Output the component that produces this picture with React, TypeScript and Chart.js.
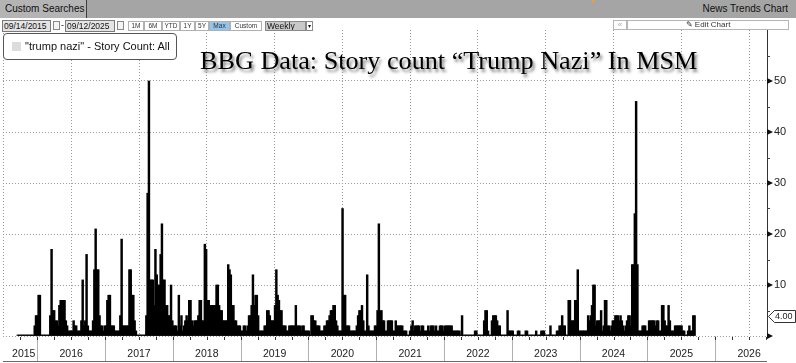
import React, { useEffect, useRef } from 'react';
import { Chart, registerables } from 'chart.js';

Chart.register(...registerables);

// ---------- DATA (weekly story counts, one value per Friday) ----------
const seriesName = '"trump nazi" - Story Count: All';
const chartTitle = 'BBG Data: Story count \u201CTrump Nazi\u201D In MSM';
const firstFriday = { year: 2015, month: 8, day: 18 }; // 2015-09-18

const counts2015 = [0, 0, 0, 0, 0, 0, 0, 0, 0, 0, 0, 0, 0, 2, 4];
const counts2016 = [4, 8, 8, 0, 0, 0, 0, 0, 0, 0, 4, 17, 5, 5, 3, 3, 2, 6, 7, 7, 7, 7, 3, 2, 1, 1, 1, 1, 3, 2, 2, 1, 1, 1, 3, 11, 2, 3, 16, 2, 1, 1, 1, 3, 13, 21, 13, 13, 4, 2, 2, 1, 2];
const counts2017 = [2, 7, 8, 8, 2, 2, 2, 1, 1, 1, 1, 4, 19, 2, 2, 2, 2, 2, 13, 13, 8, 8, 3, 1, 0, 0, 0, 0, 0, 0, 0, 4, 28, 50, 11, 11, 11, 6, 17, 12, 10, 10, 16, 22, 11, 11, 6, 6, 4, 4, 10, 3];
const counts2018 = [2, 2, 2, 1, 8, 2, 4, 1, 2, 3, 4, 3, 7, 7, 3, 2, 3, 3, 3, 4, 7, 7, 3, 3, 18, 17, 7, 7, 6, 6, 6, 6, 6, 10, 10, 6, 5, 5, 3, 3, 3, 3, 14, 13, 12, 6, 6, 3, 3, 2, 2, 2];
const counts2019 = [1, 1, 2, 2, 1, 2, 4, 4, 6, 12, 6, 8, 8, 4, 1, 1, 1, 1, 2, 2, 5, 5, 4, 3, 3, 3, 6, 13, 8, 7, 5, 5, 2, 2, 2, 1, 1, 2, 2, 2, 2, 2, 6, 2, 2, 2, 1, 2, 2, 1, 1, 1];
const counts2020 = [1, 0, 4, 4, 3, 3, 2, 2, 2, 1, 1, 1, 2, 2, 3, 3, 4, 5, 5, 6, 6, 3, 2, 1, 1, 1, 25, 8, 8, 2, 2, 2, 1, 1, 1, 1, 1, 2, 4, 5, 5, 6, 3, 1, 1, 12, 2, 1, 1, 1, 1, 2];
const counts2021 = [2, 5, 22, 5, 5, 3, 3, 1, 1, 3, 3, 3, 3, 1, 1, 3, 2, 2, 2, 2, 2, 1, 1, 1, 0, 0, 1, 2, 3, 1, 2, 2, 2, 2, 1, 2, 2, 1, 1, 1, 2, 1, 2, 2, 2, 1, 2, 1, 1, 2, 2, 2, 1];
const counts2022 = [2, 2, 2, 2, 2, 2, 1, 1, 1, 1, 1, 1, 0, 4, 0, 0, 0, 0, 0, 0, 0, 0, 0, 1, 1, 0, 0, 0, 0, 0, 3, 5, 5, 1, 0, 0, 3, 4, 4, 4, 3, 2, 2, 0, 0, 0, 0, 0, 5, 1, 1, 1];
const counts2023 = [1, 0, 0, 0, 1, 1, 0, 0, 0, 0, 1, 1, 0, 0, 0, 0, 0, 0, 1, 0, 0, 0, 1, 1, 1, 0, 0, 0, 0, 2, 0, 0, 0, 0, 1, 1, 2, 2, 4, 2, 2, 0, 0, 7, 7, 3, 3, 3, 7, 7, 13, 1];
const counts2024 = [1, 1, 1, 1, 1, 1, 4, 3, 4, 6, 10, 10, 2, 3, 3, 3, 5, 1, 2, 7, 7, 2, 2, 1, 2, 3, 3, 4, 4, 4, 3, 4, 3, 2, 1, 2, 3, 4, 4, 2, 14, 14, 24, 46, 14, 1, 1, 1, 2, 2, 2, 1];
const counts2025 = [1, 3, 3, 3, 3, 3, 2, 3, 3, 1, 1, 6, 6, 3, 2, 2, 6, 3, 1, 1, 1, 2, 2, 2, 2, 2, 2, 1, 1, 0, 0, 1, 2, 1, 1, 4, 4];

const yearLabels = ['2015', '2016', '2017', '2018', '2019', '2020', '2021', '2022', '2023', '2024', '2025', '2026'];
const yearLabelPositions = [2015.8, 2016.5, 2017.5, 2018.5, 2019.5, 2020.5, 2021.5, 2022.5, 2023.5, 2024.5, 2025.5, 2026.5];
const yearBoundaries = [2016, 2017, 2018, 2019, 2020, 2021, 2022, 2023, 2024, 2025, 2026];
const yTickValues = [10, 20, 30, 40, 50];
const rangeButtons = ['1M', '6M', 'YTD', '1Y', '5Y', 'Max', 'Custom'];

const X_MIN = 2015.493;
const X_MAX = 2026.764;
const Y_MAX = 60;

const allCounts = [
  ...counts2015, ...counts2016, ...counts2017, ...counts2018, ...counts2019, ...counts2020,
  ...counts2021, ...counts2022, ...counts2023, ...counts2024, ...counts2025,
];

function decimalYear(ms: number) {
  const d = new Date(ms);
  const y = d.getUTCFullYear();
  const s = Date.UTC(y, 0, 1);
  const e = Date.UTC(y + 1, 0, 1);
  return y + (ms - s) / (e - s);
}

const startMs = Date.UTC(firstFriday.year, firstFriday.month, firstFriday.day);
const points = allCounts.map((v, i) => ({ x: decimalYear(startMs + i * 7 * 86400000), y: v }));

const SANS = "'Liberation Sans', Arial, sans-serif";

const decorPlugin = {
  id: 'decor',
  afterDraw(chart: any) {
    const { ctx, chartArea, scales } = chart;
    const xs = scales.x;
    const ys = scales.y;
    const bottom = chartArea.bottom;
    ctx.save();
    // year separators in the axis band
    ctx.strokeStyle = '#b0b0b0';
    ctx.lineWidth = 1;
    yearBoundaries.forEach((yr) => {
      const px = Math.round(xs.getPixelForValue(yr)) + 0.5;
      ctx.beginPath();
      ctx.moveTo(px, bottom);
      ctx.lineTo(px, 362);
      ctx.stroke();
    });
    // bottom line
    ctx.strokeStyle = '#6a6a6a';
    ctx.beginPath();
    ctx.moveTo(chartArea.left, 361.5);
    ctx.lineTo(chartArea.right, 361.5);
    ctx.stroke();
    // quarterly ticks
    ctx.strokeStyle = '#333';
    for (let q = 2015.75; q <= X_MAX; q += 0.25) {
      const px = Math.round(xs.getPixelForValue(q)) + 0.5;
      if (px < chartArea.left || px > chartArea.right) continue;
      ctx.beginPath();
      ctx.moveTo(px, bottom + 1);
      ctx.lineTo(px, bottom + 4);
      ctx.stroke();
    }
    // y-axis markers
    const ax = chartArea.right;
    ctx.fillStyle = '#111';
    [0, ...yTickValues].forEach((v) => {
      const py = ys.getPixelForValue(v);
      ctx.beginPath();
      ctx.moveTo(ax, py - 3);
      ctx.lineTo(ax + 6, py);
      ctx.lineTo(ax, py + 3);
      ctx.closePath();
      ctx.fill();
    });
    ctx.strokeStyle = '#444';
    [5, 15, 25, 35, 45, 55].forEach((v) => {
      const py = Math.round(ys.getPixelForValue(v)) + 0.5;
      ctx.beginPath();
      ctx.moveTo(ax, py);
      ctx.lineTo(ax + 3, py);
      ctx.stroke();
    });
    // last value tag
    const last = allCounts[allCounts.length - 1];
    const ty = Math.round(ys.getPixelForValue(last)) + 0.5;
    ctx.beginPath();
    ctx.moveTo(ax + 1.5, ty);
    ctx.lineTo(ax + 7.5, ty - 6);
    ctx.lineTo(795.5, ty - 6);
    ctx.lineTo(795.5, ty + 6);
    ctx.lineTo(ax + 7.5, ty + 6);
    ctx.closePath();
    ctx.fillStyle = '#fff';
    ctx.fill();
    ctx.strokeStyle = '#333';
    ctx.stroke();
    ctx.fillStyle = '#222';
    ctx.font = `9px ${SANS}`;
    ctx.textBaseline = 'middle';
    ctx.textAlign = 'left';
    ctx.fillText(last.toFixed(2), ax + 8, ty + 0.5);
    ctx.restore();
  },
};

function ChartCanvas() {
  const ref = useRef<HTMLCanvasElement | null>(null);
  useEffect(() => {
    if (!ref.current) return;
    const chart = new Chart(ref.current, {
      type: 'bar',
      data: {
        datasets: [
          {
            label: seriesName,
            data: points as any,
            backgroundColor: '#000',
            borderWidth: 0,
            barThickness: 1.8,
            minBarLength: 1,
          },
        ],
      },
      options: {
        animation: false,
        responsive: false,
        devicePixelRatio: 1,
        layout: { padding: { top: 30, left: 0, right: 0, bottom: 0 } },
        plugins: { legend: { display: false }, tooltip: { enabled: false }, title: { display: false } },
        scales: {
          x: {
            type: 'linear',
            position: 'bottom',
            min: X_MIN,
            max: X_MAX,
            offset: false,
            afterBuildTicks: (a: any) => {
              a.ticks = yearBoundaries.map((v) => ({ value: v }));
            },
            ticks: { display: false },
            grid: { color: '#9a9a9a', lineWidth: 1, drawTicks: false },
            border: { display: false, dash: [1, 2] },
            afterFit: (s: any) => {
              s.height = 0;
            },
          } as any,
          xYears: {
            type: 'linear',
            position: 'bottom',
            weight: 1,
            min: X_MIN,
            max: X_MAX,
            offset: false,
            afterBuildTicks: (a: any) => {
              a.ticks = yearLabelPositions.map((v) => ({ value: v }));
            },
            ticks: {
              autoSkip: false,
              maxRotation: 0,
              padding: 12,
              color: '#222',
              font: { family: SANS, size: 10.5 },
              callback: (_v: any, i: number) => yearLabels[i],
            },
            grid: { display: false, drawTicks: false },
            border: { display: false },
            afterFit: (s: any) => {
              s.height = 27;
            },
          } as any,
          y: {
            type: 'linear',
            position: 'right',
            min: 0,
            max: Y_MAX,
            afterBuildTicks: (a: any) => {
              a.ticks = [0, 10, 20, 30, 40, 50, 60].map((v) => ({ value: v }));
            },
            ticks: {
              padding: 7,
              color: '#222',
              font: { family: SANS, size: 11 },
              callback: (v: any) => (yTickValues.includes(v) ? String(v) : ''),
            },
            grid: {
              color: (c: any) => (c.tick && c.tick.value === Y_MAX ? 'rgba(0,0,0,0)' : '#9a9a9a'),
              lineWidth: 1,
              drawTicks: false,
            },
            border: { display: true, color: '#333', width: 1, dash: [1, 2] },
            afterFit: (s: any) => {
              s.width = 29;
            },
          } as any,
        },
      },
      plugins: [decorPlugin],
    });
    return () => chart.destroy();
  }, []);
  return (
    <canvas
      ref={ref}
      width={796}
      height={363}
      style={{ position: 'absolute', left: 0, top: 0, width: 796, height: 363 }}
    />
  );
}

const boxBase: React.CSSProperties = {
  position: 'absolute',
  boxSizing: 'border-box',
  fontFamily: SANS,
  color: '#111',
  whiteSpace: 'nowrap',
  overflow: 'hidden',
};

const btnLefts = [128, 144, 162, 180, 195, 209, 230];
const btnWidths = [16, 18, 18, 15, 14, 21, 32];

export default function App() {
  return (
    <div
      style={{
        position: 'fixed',
        left: 0,
        top: 0,
        width: 796,
        height: 363,
        background: '#fff',
        overflow: 'hidden',
      }}
    >
      <ChartCanvas />
      {/* header bar */}
      <div style={{ ...boxBase, left: 0, top: 0, width: 796, height: 18, background: '#a5a5a5' }} />
      <div
        style={{
          ...boxBase,
          left: 0,
          top: 0,
          width: 87,
          height: 18,
          background: '#b4b4b4',
          borderRight: '1px solid #3c3c3c',
          fontSize: 10,
          lineHeight: '18px',
          paddingLeft: 5,
        }}
      >
        Custom Searches
      </div>
      <div style={{ ...boxBase, left: 592, top: 0, width: 2, height: 3, background: '#e8a040' }} />
      <div style={{ ...boxBase, right: 8, top: 0, height: 18, fontSize: 10, lineHeight: '18px' }}>
        News Trends Chart
      </div>
      {/* toolbar row */}
      <div
        style={{
          ...boxBase,
          left: 2,
          top: 20,
          width: 49,
          height: 12,
          background: '#e4e4e4',
          border: '1px solid #7a7a7a',
          fontSize: 8.5,
          lineHeight: '10px',
          paddingLeft: 1,
        }}
      >
        09/14/2015
      </div>
      <div style={{ ...boxBase, left: 53, top: 21, width: 7, height: 9, border: '1px solid #888', background: '#f4f4f4' }} />
      <div style={{ ...boxBase, left: 61, top: 20, fontSize: 9, lineHeight: '11px' }}>-</div>
      <div
        style={{
          ...boxBase,
          left: 65,
          top: 20,
          width: 50,
          height: 12,
          background: '#e4e4e4',
          border: '1px solid #7a7a7a',
          fontSize: 8.5,
          lineHeight: '10px',
          paddingLeft: 1,
        }}
      >
        09/12/2025
      </div>
      <div style={{ ...boxBase, left: 117, top: 21, width: 7, height: 9, border: '1px solid #888', background: '#f4f4f4' }} />
      {rangeButtons.map((b, i) => (
        <div
          key={b}
          style={{
            ...boxBase,
            left: btnLefts[i],
            top: 21,
            width: btnWidths[i],
            height: 10,
            border: '1px solid #b0b0b0',
            background: b === 'Max' ? '#94c4ec' : '#fff',
            fontSize: 6.5,
            lineHeight: '8px',
            textAlign: 'center',
            color: '#333',
          }}
        >
          {b}
        </div>
      ))}
      <div
        style={{
          ...boxBase,
          left: 265,
          top: 21,
          width: 41,
          height: 10,
          background: '#c9c9c9',
          border: '1px solid #8a8a8a',
          fontSize: 8.5,
          lineHeight: '8px',
          paddingLeft: 1,
        }}
      >
        Weekly
      </div>
      <div
        style={{
          ...boxBase,
          left: 306,
          top: 21,
          width: 7,
          height: 10,
          background: '#fff',
          border: '1px solid #8a8a8a',
          fontSize: 6,
          lineHeight: '8px',
          textAlign: 'center',
        }}
      >
        ▾
      </div>
      <div
        style={{
          ...boxBase,
          left: 613,
          top: 20,
          width: 14,
          height: 10,
          background: '#fff',
          border: '1px solid #b5b5b5',
          fontSize: 8,
          lineHeight: '8px',
          textAlign: 'center',
          color: '#aaa',
        }}
      >
        «
      </div>
      <div
        style={{
          ...boxBase,
          left: 627,
          top: 20,
          width: 162,
          height: 10,
          background: '#fff',
          border: '1px solid #b5b5b5',
          fontSize: 8,
          lineHeight: '8px',
          textAlign: 'center',
          color: '#333',
        }}
      >
        ✎ Edit Chart
      </div>
      {/* legend */}
      <div
        style={{
          ...boxBase,
          left: 3,
          top: 33,
          width: 174,
          height: 27,
          background: '#fff',
          border: '1px solid #555',
          borderRadius: 4,
        }}
      >
        <div style={{ position: 'absolute', left: 8, top: 8, width: 9, height: 9, background: '#dcdcdc' }} />
        <div style={{ position: 'absolute', left: 21, top: 0, fontSize: 11, lineHeight: '25px', color: '#111' }}>
          {seriesName}
        </div>
      </div>
      {/* title */}
      <div
        style={{
          position: 'absolute',
          left: 200,
          top: 48,
          fontFamily: "'Liberation Serif', 'Times New Roman', serif",
          fontSize: 26.2,
          lineHeight: '26px',
          color: '#000',
          whiteSpace: 'nowrap',
          textShadow: '2px 3px 3px rgba(0,0,0,0.5)',
        }}
      >
        {chartTitle}
      </div>
    </div>
  );
}
